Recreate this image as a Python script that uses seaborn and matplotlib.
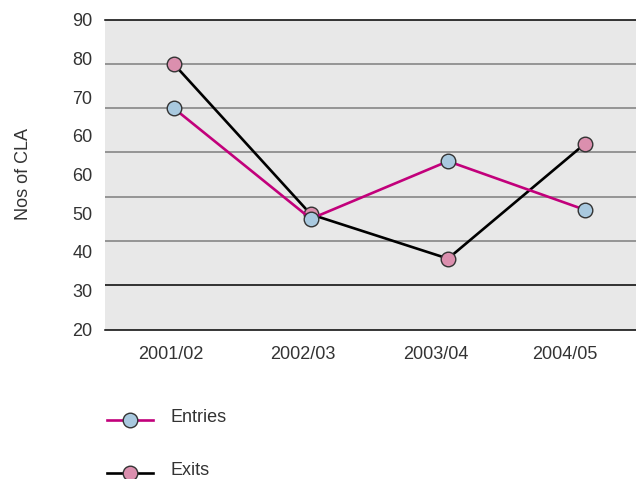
import matplotlib
matplotlib.use("Agg")
import matplotlib.pyplot as plt
from matplotlib.transforms import ScaledTranslation
import numpy as np
import pandas as pd
import seaborn as sns

# Academic years and numbers of CLA entering / leaving
years = ["2001/02", "2002/03", "2003/04", "2004/05"]
entries = [70, 45, 58, 47]
exits = [80, 46, 36, 62]

# Printed y-axis labels (as published, including the repeated "60")
ytick_labels = ["20", "30", "40", "50", "60", "60", "70", "80", "90"]
grid_values = [30, 40, 50, 60, 70, 80]

df = pd.DataFrame({
    "year": years * 2,
    "count": entries + exits,
    "series": ["Entries"] * len(years) + ["Exits"] * len(years),
})

plt.rcParams["font.family"] = ["Liberation Sans", "DejaVu Sans"]
TEXT = "#333333"
FS = 13

fig = plt.figure(figsize=(6.36, 4.79), dpi=100)
ax = fig.add_axes([105 / 636, 1 - 329.5 / 479, 1 - 105 / 636, 310 / 479])
ax.set_facecolor("#e8e8e8")

# Horizontal rules behind the data
for v in grid_values:
    ax.axhline(v, color="#000000" if v == 30 else "#7d7d7d", lw=1.1, zorder=1)

marker_kw = dict(marker="o", markersize=10.5, markeredgecolor="#333333",
                 markeredgewidth=1.0)
sns.lineplot(data=df[df.series == "Exits"], x="year", y="count", ax=ax,
             color="#000000", lw=1.9, markerfacecolor="#db8fae",
             zorder=3, label="Exits", **marker_kw)
sns.lineplot(data=df[df.series == "Entries"], x="year", y="count", ax=ax,
             color="#c2007b", lw=1.9, markerfacecolor="#a9c9df",
             zorder=4, label="Entries", **marker_kw)

ax.set_ylim(20, 90)
ax.set_xlim(-0.5, 3.37)
ax.set_yticks(np.linspace(20, 90, len(ytick_labels)))
ax.set_yticklabels(ytick_labels)
ax.tick_params(axis="both", length=0, labelsize=FS, colors=TEXT)
ax.tick_params(axis="y", pad=9)
ax.tick_params(axis="x", pad=12)
ax.set_xlabel("")
ax.set_ylabel("Nos of CLA", fontsize=FS, color=TEXT, labelpad=29)

# Year labels sit on a slightly tighter spacing than the plotted points
label_shift_px = [-3, -8, -12, -20]
for lbl, dx in zip(ax.get_xticklabels(), label_shift_px):
    lbl.set_transform(lbl.get_transform()
                      + ScaledTranslation(dx / 100, 0, fig.dpi_scale_trans))

for side in ["left", "right"]:
    ax.spines[side].set_visible(False)
for side in ["top", "bottom"]:
    ax.spines[side].set_color("#000000")
    ax.spines[side].set_linewidth(1.1)

ax.get_legend().remove()
handles, labels = ax.get_legend_handles_labels()
order = [labels.index("Entries"), labels.index("Exits")]
leg = fig.legend([handles[i] for i in order], [labels[i] for i in order],
                 loc="upper left", bbox_to_anchor=(91 / 636, 1 - 397 / 479),
                 frameon=False, fontsize=FS, labelcolor=TEXT,
                 handlelength=2.55, handletextpad=0.95, labelspacing=2.0)
# Labels ride a little above their line-and-marker keys
for t in leg.get_texts():
    t.set_y(4)

fig.savefig("out.png", dpi=100)
